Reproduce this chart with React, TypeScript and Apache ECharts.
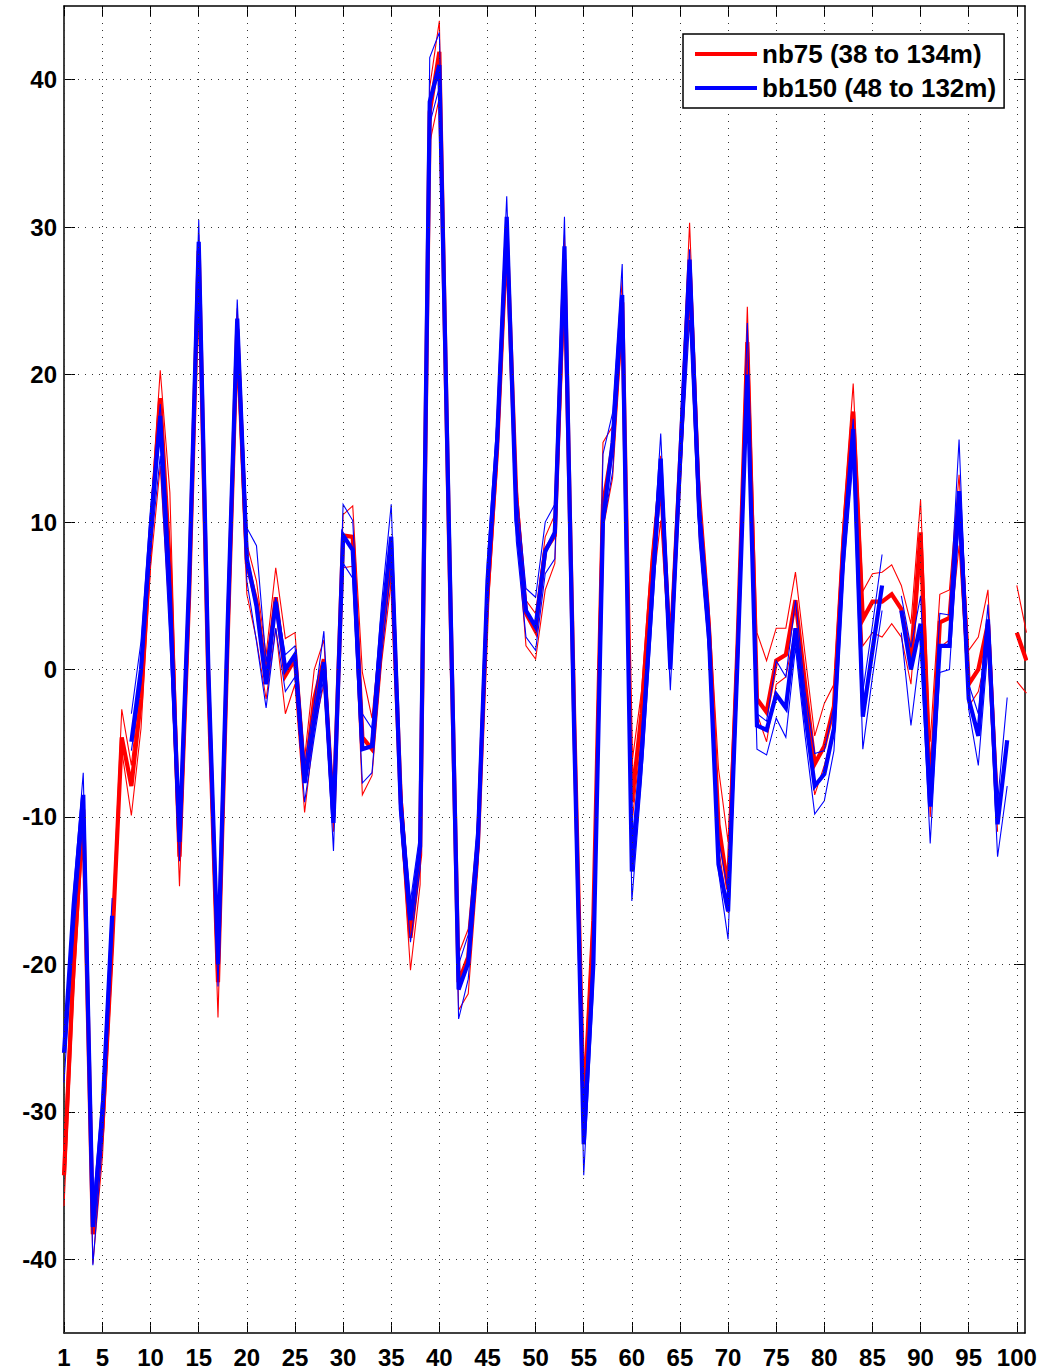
import React, { useEffect, useRef } from "react";
import * as echarts from "echarts";

const xValues = Array.from({ length: 101 }, (_, i) => i + 1);
const xTickValues = [1, 5, 10, 15, 20, 25, 30, 35, 40, 45, 50, 55, 60, 65, 70, 75, 80, 85, 90, 95, 100];
const yTickValues = [-40, -30, -20, -10, 0, 10, 20, 30, 40];

const nb75Name = "nb75 (38 to 134m)";
const bb150Name = "bb150 (48 to 132m)";

// nb75 mean (thick red)
const nb75Mean = [
  -34.3, -20, -9.5, -38.3, -31, -18.7, -4.6, -7.9, -2, 9,
  18.4, 7, -12.7, 5, 28.4, -1, -21.2, 2, 23.1, 7.2,
  4.6, -0.5, 4.9, -0.4, 0.7, -7.5, -2, 0.7, -10, 9.1,
  9.0, -4.6, -5.4, 2, 7.8, -9, -18.2, -12.6, 37.8, 41.9,
  9, -21.2, -19.5, -12, 5, 15, 29.6, 11.6, 3.8, 2.6,
  8.1, 9.1, 27.8, -3, -30.2, -17, 11.2, 15.1, 24.9, -9,
  -3, 6, 13.1, 1, 14, 27.2, 11, 3, -10.5, -14.9,
  2, 22.2, -2, -2.9, 0.6, 1.0, 4.7, -1, -6.4, -5.2,
  -2.5, 9, 17.5, 3.4, 4.6, 4.6, 5.1, 4.1, 0.7, 9.3,
  -8.8, 3.2, 3.5, 11.3, -1, 0, 3.1, -10, null, 2.5,
  0.6,
];
// nb75 upper (thin red)
const nb75Upper = [
  -32.5, -18, -9, -37, -29.5, -17.5, -2.7, -6.5, -0.5, 10.5,
  20.3, 12, -11, 7, 29.5, 1, -19, 4, 24.5, 8.5,
  6, 1, 6.9, 2.1, 2.5, -6, 0, 2, -9, 10.5,
  11.1, -0.2, -3.3, 3.5, 9, -7.5, -16.5, -11.5, 39.5, 44,
  11, -19.3, -17.6, -10.5, 6.5, 16.5, 30.5, 13, 4.7, 3.8,
  9, 10.5, 29.5, -1, -28.7, -15.5, 15.4, 16.5, 26.5, -6.4,
  -1.5, 7.5, 14.5, 2.5, 15.5, 30.3, 13.1, 4.5, -6.7, -11.7,
  3.5, 24.6, 2.5, 0.6, 2.8, 2.8, 6.6, 1, -4.5, -2.3,
  -1, 10.5, 19.4, 5.3, 6.5, 6.6, 7.1, 5.7, 3.1, 11.5,
  -4.9, 5.1, 5.4, 13.2, 1.3, 2.2, 5.4, -8.5, null, 5.7,
  2.5,
];
// nb75 lower (thin red)
const nb75Lower = [
  -36.4, -22, -11, -40.3, -33, -20, -5.5, -9.9, -4, 7,
  13.8, 3, -14.7, 3, 27.3, -3, -23.6, 0, 21, 5.1,
  2, -2, 2.8, -3, -1, -9.7, -4, -1, -11, 6.9,
  7, -8.5, -7.2, 0.5, 6, -10.5, -20.4, -14.6, 35.7, 38.8,
  7, -23.1, -22, -13.5, 3.5, 13.5, 27.8, 10, 1.6, 0.7,
  5.4, 7.2, 24.9, -5, -32, -19, 9.5, 13, 23.1, -10.5,
  -4.5, 4.5, 10.1, 0, 12.5, 25, 9, 1.5, -12, -16.5,
  0.5, 19.5, -3, -4.9, -1, -0.5, 2.8, -2.5, -8.5, -6.5,
  -4, 7.5, 15, 1.6, 2.5, 2.2, 3.1, 2.2, -1, 7.5,
  -10, 1.5, 2, 8.4, -2.5, -1.5, 1.5, -11, null, -0.8,
  -1.6,
];
// bb150 mean (thick blue)
const bb150Mean = [
  -26, -16, -8.5, -37.8, -30, -16.7, null, -4.9, 0, 9.5,
  17.2, 5, -11.7, 6, 29, 0, -20, 3, 23.8, 7.5,
  4.3, -1, 4.6, 0, 1, -7.7, -3.5, 0.5, -10.4, 9.1,
  8.1, -5.4, -5.2, 3, 9, -9.5, -17, -12, 38.5, 41,
  9.5, -21.7, -19.9, -11.7, 6, 15.5, 30.7, 10.1, 4, 2.9,
  8, 9.3, 28.7, -4, -32.2, -20, 10.1, 15.4, 25.4, -13.7,
  -6, 4, 14.3, 0, 14, 27.8, 10.5, 2.5, -13.2, -16.4,
  1, 20, -3.8, -4.1, -1.7, -2.6, 2.8, -3, -7.9, -7.1,
  -4, 8, 16.3, -3.2, 1.3, 5.7, null, 4, 0, 3.1,
  -9.3, 1.6, 1.6, 12.1, -2, -4.5, 3.4, -10.5, -4.8, null,
  -1.3,
];
// bb150 upper (thin blue)
const bb150Upper = [
  -25.5, -15, -7, -36.5, -28.5, -15.5, null, -3, 1.9, 11,
  18, 7, -10.5, 7.5, 30.5, 2, -18.7, 5, 25.1, 9.6,
  8.4, 0.5, 4.9, 1, 1.6, -6.5, -2.3, 2.6, -9.5, 11.2,
  10.1, -3, -4, 4.5, 11.2, -8, -15.7, -11, 41.5, 43.2,
  11.5, -20, -18, -10, 7.5, 17, 32.1, 12.2, 5.5, 4.9,
  10, 11.2, 30.7, -2, -30.5, -18.5, 14.6, 17.4, 27.5, -12,
  -4.5, 5.5, 16, 1.5, 15.5, 28.5, 12, 4, -11.5, -15,
  2.5, 23.5, -3, -3.5, 0.6, -0.5, 4.7, -1.5, -5.7, -5.5,
  -2.5, 9.5, 17, -1.5, 3, 7.8, null, 5, 1.5, 5,
  -8, 3.8, 3.7, 15.6, -1, -3, 4.4, -9, -1.9, null,
  -1.3,
];
// bb150 lower (thin blue)
const bb150Lower = [
  -28, -18, -10, -40.4, -32, -18, null, -5.5, -1, 8,
  14.5, 2, -13, 4, 27.5, -2, -21.5, 1, 22, 6,
  1.9, -2.6, 2.8, -1.5, -0.5, -9, -4.6, -0.5, -12.3, 7.2,
  6.2, -7.7, -7, 1, 7, -11, -18.5, -13.5, 37, 39.5,
  7.5, -23.7, -21, -13, 4.5, 14, 29, 8.7, 2.2, 1.3,
  6.5, 7.5, 27, -6, -34.3, -21.7, 9.6, 13.4, 24, -15.7,
  -7.5, 2.5, 12.5, -1.4, 12.5, 23.7, 8.7, 1, -13.7, -18.3,
  -0.5, 18.5, -5.4, -5.8, -3.3, -4.6, 1.5, -4.5, -9.8, -8.9,
  -5.5, 6.5, 14.3, -5.4, -0.5, 4, null, 2.5, -3.8, 1.5,
  -11.8, -0.2, 0, 10, -2.7, -6.5, 1.5, -12.7, -7.9, null,
  -3.6,
];

const RED = "#ff0000";
const BLUE = "#0000ff";
const FONT = "'Liberation Sans', Arial, sans-serif";

const pairs = (vals: (number | null)[]) => xValues.map((x, i) => [x, vals[i]]);

const lineSeries = (name: string, vals: (number | null)[], color: string, width: number, z: number) => ({
  name,
  type: "line",
  data: pairs(vals),
  showSymbol: false,
  symbol: "none",
  connectNulls: false,
  clip: true,
  z,
  silent: true,
  itemStyle: { color },
  lineStyle: { color, width, join: "miter" },
  emphasis: { disabled: true },
});

export default function App() {
  const ref = useRef<HTMLDivElement>(null);
  useEffect(() => {
    document.body.style.margin = "0";
    const chart = echarts.init(ref.current!, null, { renderer: "svg" });
    const axisCommon = {
      axisLine: { show: true, onZero: false, lineStyle: { color: "#000", width: 1.5 } },
      splitLine: { show: false },
    };
    chart.setOption({
      animation: false,
      backgroundColor: "#fff",
      grid: { left: 64, top: 6, width: 961, height: 1327, containLabel: false },
      xAxis: [
        {
          type: "value", min: 1, max: 100.85, position: "bottom", ...axisCommon,
          axisTick: { show: true, inside: true, length: 11, customValues: xTickValues, lineStyle: { color: "#000", width: 1 } },
          axisLabel: { show: true, customValues: xTickValues, fontSize: 24, fontWeight: "bold", fontFamily: FONT, color: "#000", margin: 12 },
        },
        {
          type: "value", min: 1, max: 100.85, position: "top", ...axisCommon,
          axisTick: { show: true, inside: true, length: 11, customValues: xTickValues, lineStyle: { color: "#000", width: 1 } },
          axisLabel: { show: false },
        },
      ],
      yAxis: [
        {
          type: "value", min: -45, max: 45, position: "left", ...axisCommon,
          axisTick: { show: true, inside: true, length: 11, customValues: yTickValues, lineStyle: { color: "#000", width: 1 } },
          axisLabel: { show: true, customValues: yTickValues, fontSize: 24, fontWeight: "bold", fontFamily: FONT, color: "#000", margin: 7 },
        },
        {
          type: "value", min: -45, max: 45, position: "right", ...axisCommon,
          axisTick: { show: true, inside: true, length: 11, customValues: yTickValues, lineStyle: { color: "#000", width: 1 } },
          axisLabel: { show: false },
        },
      ],
      legend: {
        data: [nb75Name, bb150Name],
        orient: "vertical",
        left: 683,
        top: 34,
        selectedMode: false,
        backgroundColor: "#fff",
        borderColor: "#000",
        borderWidth: 1.5,
        padding: [6, 8, 6, 12],
        itemWidth: 62,
        itemHeight: 4,
        itemGap: 6,
        icon: "rect",
        textStyle: { fontSize: 26, fontWeight: "bold", fontFamily: FONT, color: "#000", lineHeight: 28 },
        z: 10,
      },
      series: [
        {
          name: "grid",
          type: "line",
          data: [],
          z: 1,
          silent: true,
          markLine: {
            silent: true,
            symbol: ["none", "none"],
            label: { show: false },
            emphasis: { disabled: true },
            lineStyle: { color: "#333", width: 1, type: [1, 6] },
            data: [
              ...xTickValues.map((v) => ({ xAxis: v })),
              ...yTickValues.map((v) => ({ yAxis: v })),
            ],
          },
        },
        lineSeries(nb75Name, nb75Mean, RED, 4.2, 2),
        lineSeries("nb75 upper", nb75Upper, RED, 1.1, 2),
        lineSeries("nb75 lower", nb75Lower, RED, 1.1, 2),
        lineSeries(bb150Name, bb150Mean, BLUE, 4.2, 3),
        lineSeries("bb150 upper", bb150Upper, BLUE, 1.1, 3),
        lineSeries("bb150 lower", bb150Lower, BLUE, 1.1, 3),
      ],
    });
    return () => chart.dispose();
  }, []);
  return <div ref={ref} style={{ width: 1054, height: 1370 }} />;
}
